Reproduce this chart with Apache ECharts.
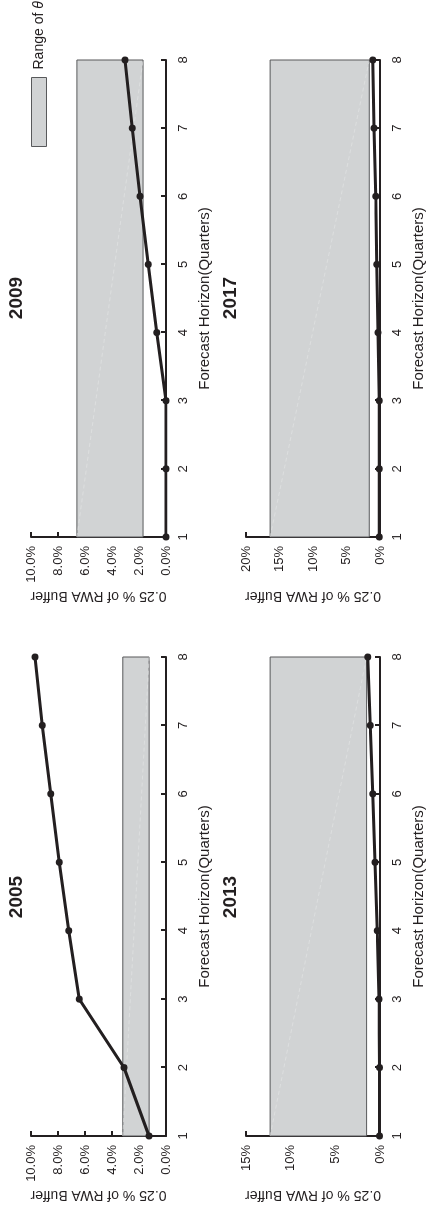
<!DOCTYPE html>
<html>
<head>
<meta charset="utf-8">
<script src="https://cdn.jsdelivr.net/npm/echarts@6.0.0/dist/echarts.min.js"></script>
<style>
  html, body { margin: 0; padding: 0; background: #fff; overflow: hidden; }
  /* the figure is drawn landscape and turned a quarter turn to the left */
  #chart {
    position: absolute; left: 0; top: 0;
    width: 1213px; height: 427px;
    transform-origin: 0 0;
    transform: translate(0, 1213px) rotate(-90deg);
  }
</style>
</head>
<body>
<div id="chart"></div>
<script>
// forecast horizon (quarters)
var quarters = [1, 2, 3, 4, 5, 6, 7, 8];

// 0.25 % of RWA buffer (in %)
var buffer2005 = [1.26, 3.11, 6.42, 7.21, 7.90, 8.54, 9.16, 9.70];
var buffer2009 = [0.0, 0.0, 0.0, 0.69, 1.31, 1.93, 2.50, 3.04];
var buffer2013 = [0.05, 0.05, 0.1, 0.30, 0.56, 0.82, 1.09, 1.38];
var buffer2017 = [0.1, 0.1, 0.1, 0.30, 0.49, 0.64, 0.90, 1.09];

// range of theta [low, high] (in %)
var theta2005 = [1.25, 3.2];
var theta2009 = [1.7, 6.6];
var theta2013 = [1.5, 12.3];
var theta2017 = [1.6, 16.4];

// panel titles and y axis scales
var years = ['2005', '2009', '2013', '2017'];
var yMax = [10, 10, 15, 20];
var yStep = [2, 2, 5, 5];
var yDigits = [1, 1, 0, 0];

var ink = '#231f20';
var font = "'Liberation Sans', Arial, Helvetica, sans-serif";

var chart = echarts.init(document.getElementById('chart'));

// grid boxes: left/right columns, top/bottom rows
var grids = [
  {left: 77, right: 657, top: 31, height: 135},
  {left: 676, right: 60, top: 31, height: 135},
  {left: 77, right: 657, top: 246, height: 134},
  {left: 676, right: 60, top: 246, height: 134}
];

function renderBand(params, api) {
  var p0 = api.coord([api.value(0), api.value(3)]);
  var p1 = api.coord([api.value(2), api.value(1)]);
  return {
    type: 'group',
    children: [
      {
        type: 'rect',
        shape: {x: p0[0], y: p0[1], width: p1[0] - p0[0], height: p1[1] - p0[1]},
        style: {fill: '#d1d3d4', stroke: '#58595b', lineWidth: 1}
      },
      {
        type: 'line',
        shape: {x1: p0[0], y1: p0[1], x2: p1[0], y2: p1[1]},
        style: {stroke: '#e4e5e6', lineWidth: 0.6, lineDash: [4, 3]}
      }
    ]
  };
}

var series = [];
var xAxes = [];
var yAxes = [];
var titles = [];
var lines = [buffer2005, buffer2009, buffer2013, buffer2017];
var bands = [theta2005, theta2009, theta2013, theta2017];

for (var i = 0; i < 4; i++) {
  var g = grids[i];
  g.outerBoundsMode = 'none';
  g.containLabel = false;

  xAxes.push({
    gridIndex: i,
    type: 'value',
    min: 1, max: 8, interval: 1,
    name: 'Forecast Horizon(Quarters)',
    nameLocation: 'middle',
    nameGap: 31,
    nameTextStyle: {fontFamily: font, fontSize: 15, color: ink},
    axisLine: {show: true, lineStyle: {color: ink, width: 2}},
    axisTick: {show: true, inside: true, length: 5, lineStyle: {color: ink, width: 2}},
    axisLabel: {margin: 11, fontFamily: font, fontSize: 13, color: ink},
    splitLine: {show: false}
  });

  (function (d) {
    yAxes.push({
      gridIndex: i,
      type: 'value',
      min: 0, max: yMax[i], interval: yStep[i],
      name: '0.25 % of RWA Buffer',
      nameLocation: 'middle',
      nameGap: 52,
      nameTextStyle: {fontFamily: font, fontSize: 14, color: ink},
      axisLine: {show: true, lineStyle: {color: ink, width: 2}},
      axisTick: {show: true, inside: true, length: 5, lineStyle: {color: ink, width: 2}},
      axisLabel: {
        margin: 9, fontFamily: font, fontSize: 13, color: ink,
        formatter: function (v) { return v.toFixed(d) + '%'; }
      },
      splitLine: {show: false}
    });
  })(yDigits[i]);

  titles.push({
    text: years[i],
    left: i % 2 === 0 ? 316 : 915,
    top: i < 2 ? 7 : 221,
    textAlign: 'center',
    padding: 0,
    textStyle: {fontFamily: font, fontSize: 19, fontWeight: 'bold', color: ink}
  });

  series.push({
    name: 'Range of θ',
    type: 'custom',
    xAxisIndex: i,
    yAxisIndex: i,
    renderItem: renderBand,
    encode: {x: [0, 2], y: [1, 3]},
    itemStyle: {color: '#d1d3d4', borderColor: '#58595b', borderWidth: 1},
    data: [[quarters[0], bands[i][0], quarters[quarters.length - 1], bands[i][1]]],
    z: 2,
    silent: true
  });

  series.push({
    name: 'buffer ' + years[i],
    type: 'line',
    xAxisIndex: i,
    yAxisIndex: i,
    data: quarters.map(function (q, k) { return [q, lines[i][k]]; }),
    symbol: 'circle',
    symbolSize: 7,
    lineStyle: {color: ink, width: 3},
    itemStyle: {color: ink},
    z: 5,
    silent: true
  });
}

chart.setOption({
  animation: false,
  backgroundColor: '#fff',
  title: titles,
  legend: {
    left: 1066,
    top: 31,
    padding: 0,
    itemWidth: 69,
    itemHeight: 15,
    selectedMode: false,
    data: [{
      name: 'Range of θ',
      icon: 'rect',
      itemStyle: {color: '#d1d3d4', borderColor: '#58595b', borderWidth: 1}
    }],
    formatter: function () { return '{n|Range of }{t|θ}'; },
    textStyle: {
      fontFamily: font, fontSize: 14, color: ink, padding: [0, 0, 0, 3],
      rich: {
        n: {fontFamily: font, fontSize: 14, color: ink},
        t: {fontFamily: font, fontSize: 14, color: ink, fontStyle: 'italic'}
      }
    }
  },
  grid: grids,
  xAxis: xAxes,
  yAxis: yAxes,
  series: series
});
</script>
</body>
</html>
